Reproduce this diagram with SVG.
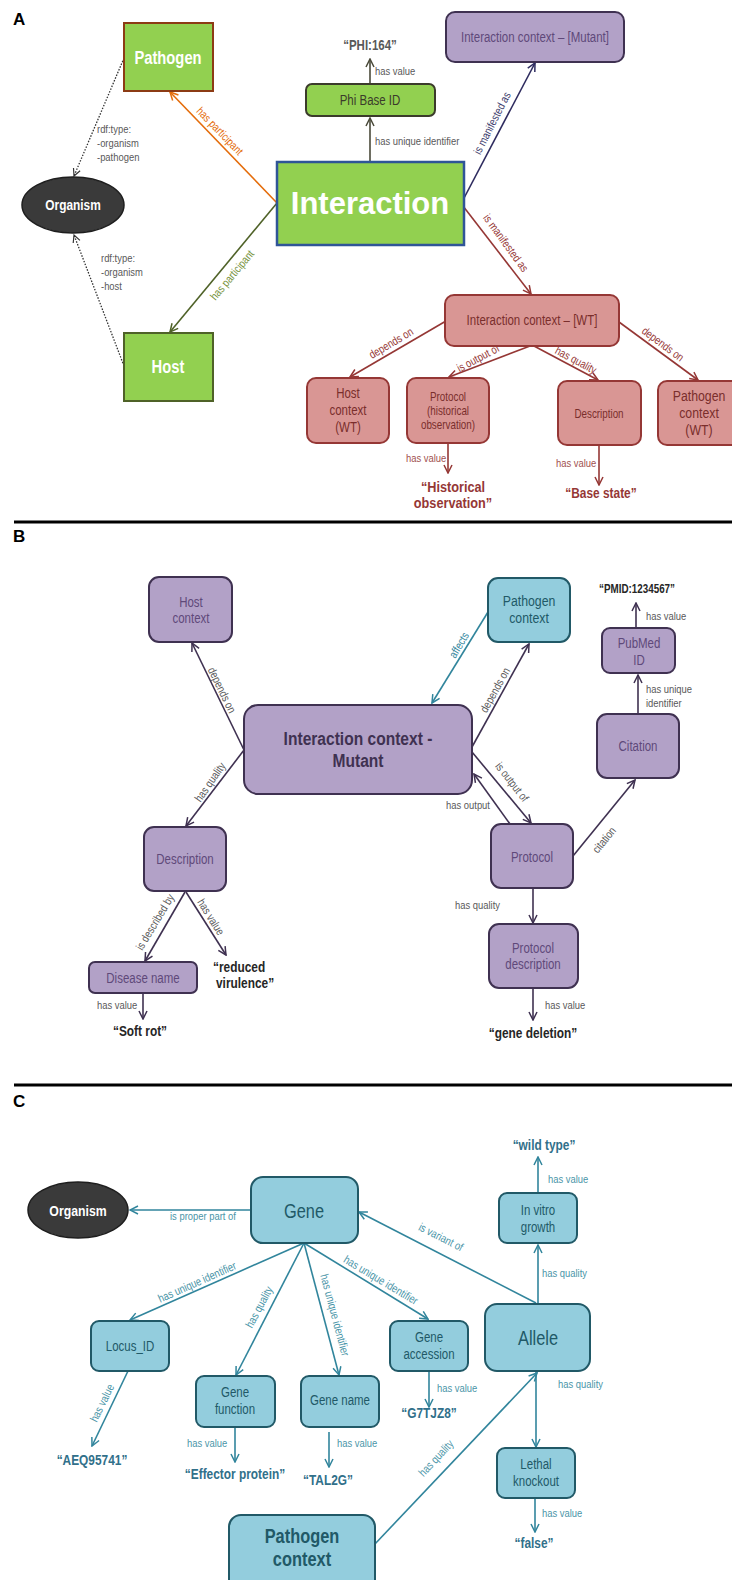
<svg xmlns="http://www.w3.org/2000/svg" width="732" height="1580" viewBox="0 0 732 1580">
<style>
text{font-family:"Liberation Sans",Arial,sans-serif;}
.ttl{font-weight:bold;font-size:17px;fill:#000}
.c{text-anchor:middle}
.lbl{font-size:11.5px;fill:#595959}
.n{font-size:14px}
.s{font-size:12px}
.b{font-weight:bold}
.wb{fill:#fff;font-weight:bold}
.ln{fill:none;stroke-width:1.6}
.dot{stroke:#333;stroke-dasharray:1.5 1.5;stroke-width:1.3}
.gA{fill:#92d050}
.wt{fill:#d99694;stroke:#953735;stroke-width:2}
.wtt{fill:#7a2e2c}
.pu{fill:#b2a1c7;stroke:#3f3151;stroke-width:2}
.put{fill:#5f497a}
.bl{fill:#93cddd;stroke:#215967;stroke-width:2}
.blt{fill:#215967}
.tl{fill:#4a95a8}
.org{fill:#3a3a3a;stroke:#1e1e1e;stroke-width:1.5}
.va{font-size:14.5px;font-weight:bold}
</style>
<defs>
<marker id="mOr" viewBox="0 0 10 10" refX="9" refY="5" markerWidth="10" markerHeight="10" markerUnits="userSpaceOnUse" orient="auto"><path d="M1,1 L9,5 L1,9" fill="none" stroke="#e46c0a" stroke-width="1.5"/></marker>
<marker id="mOl" viewBox="0 0 10 10" refX="9" refY="5" markerWidth="10" markerHeight="10" markerUnits="userSpaceOnUse" orient="auto"><path d="M1,1 L9,5 L1,9" fill="none" stroke="#4f6228" stroke-width="1.5"/></marker>
<marker id="mGr" viewBox="0 0 10 10" refX="9" refY="5" markerWidth="10" markerHeight="10" markerUnits="userSpaceOnUse" orient="auto"><path d="M1,1 L9,5 L1,9" fill="none" stroke="#4a4a3a" stroke-width="1.5"/></marker>
<marker id="mNv" viewBox="0 0 10 10" refX="9" refY="5" markerWidth="10" markerHeight="10" markerUnits="userSpaceOnUse" orient="auto"><path d="M1,1 L9,5 L1,9" fill="none" stroke="#2e2b5f" stroke-width="1.5"/></marker>
<marker id="mRd" viewBox="0 0 10 10" refX="9" refY="5" markerWidth="10" markerHeight="10" markerUnits="userSpaceOnUse" orient="auto"><path d="M1,1 L9,5 L1,9" fill="none" stroke="#953735" stroke-width="1.5"/></marker>
<marker id="mDt" viewBox="0 0 10 10" refX="9" refY="5" markerWidth="9" markerHeight="9" markerUnits="userSpaceOnUse" orient="auto"><path d="M1,1 L9,5 L1,9" fill="none" stroke="#333" stroke-width="1.3"/></marker>
<marker id="mPu" viewBox="0 0 10 10" refX="9" refY="5" markerWidth="10" markerHeight="10" markerUnits="userSpaceOnUse" orient="auto"><path d="M1,1 L9,5 L1,9" fill="none" stroke="#3f3151" stroke-width="1.5"/></marker>
<marker id="mTl" viewBox="0 0 10 10" refX="9" refY="5" markerWidth="10" markerHeight="10" markerUnits="userSpaceOnUse" orient="auto"><path d="M1,1 L9,5 L1,9" fill="none" stroke="#31859c" stroke-width="1.5"/></marker>
</defs>
<rect width="732" height="1580" fill="#fff"/>

<!-- panel titles and dividers -->
<text class="ttl" x="13" y="25">A</text>
<line x1="14" y1="522" x2="732" y2="522" stroke="#000" stroke-width="3"/>
<text class="ttl" x="13" y="542">B</text>
<line x1="14" y1="1085" x2="732" y2="1085" stroke="#000" stroke-width="3"/>
<text class="ttl" x="13" y="1107">C</text>

<!-- connectors -->
<g id="connectors">
  <line class="ln" stroke="#e46c0a" x1="277" y1="203" x2="170" y2="92" marker-end="url(#mOr)"/>
  <line class="ln" stroke="#4f6228" x1="277" y1="203" x2="170" y2="332" marker-end="url(#mOl)"/>
  <line class="ln" stroke="#4a4a3a" x1="370" y1="162" x2="370" y2="118" marker-end="url(#mGr)"/>
  <line class="ln" stroke="#4a4a3a" x1="370" y1="84" x2="370" y2="59" marker-end="url(#mGr)"/>
  <line class="ln" stroke="#2e2b5f" x1="463" y1="200" x2="535" y2="63" marker-end="url(#mNv)"/>
  <line class="ln" stroke="#953735" x1="463" y1="206" x2="531" y2="294" marker-end="url(#mRd)"/>
  <line class="ln" stroke="#953735" x1="446" y1="321" x2="350" y2="377" marker-end="url(#mRd)"/>
  <line class="ln" stroke="#953735" x1="530" y1="346" x2="449" y2="377" marker-end="url(#mRd)"/>
  <line class="ln" stroke="#953735" x1="534" y1="346" x2="598" y2="380" marker-end="url(#mRd)"/>
  <line class="ln" stroke="#953735" x1="619" y1="322" x2="698" y2="380" marker-end="url(#mRd)"/>
  <line class="ln" stroke="#953735" x1="448" y1="443" x2="448" y2="473" marker-end="url(#mRd)"/>
  <line class="ln" stroke="#953735" x1="599" y1="445" x2="599" y2="485" marker-end="url(#mRd)"/>
  <line class="ln dot" x1="124" y1="58" x2="74" y2="176" marker-end="url(#mDt)"/>
  <line class="ln dot" x1="124" y1="366" x2="74" y2="235" marker-end="url(#mDt)"/>
  <line class="ln" stroke="#3f3151" x1="244" y1="750" x2="192" y2="643" marker-end="url(#mPu)"/>
  <line class="ln" stroke="#3f3151" x1="244" y1="750" x2="186" y2="826" marker-end="url(#mPu)"/>
  <line class="ln" stroke="#31859c" x1="488" y1="612" x2="432" y2="703" marker-end="url(#mTl)"/>
  <line class="ln" stroke="#3f3151" x1="472" y1="747" x2="529" y2="644" marker-end="url(#mPu)"/>
  <line class="ln" stroke="#3f3151" x1="472" y1="752" x2="531" y2="823" marker-end="url(#mPu)"/>
  <line class="ln" stroke="#3f3151" x1="510" y1="824" x2="474" y2="774" marker-end="url(#mPu)"/>
  <line class="ln" stroke="#3f3151" x1="573" y1="856" x2="635" y2="780" marker-end="url(#mPu)"/>
  <line class="ln" stroke="#3f3151" x1="638" y1="714" x2="638" y2="675" marker-end="url(#mPu)"/>
  <line class="ln" stroke="#3f3151" x1="636" y1="628" x2="636" y2="603" marker-end="url(#mPu)"/>
  <line class="ln" stroke="#3f3151" x1="533" y1="888" x2="533" y2="923" marker-end="url(#mPu)"/>
  <line class="ln" stroke="#3f3151" x1="533" y1="989" x2="533" y2="1020" marker-end="url(#mPu)"/>
  <line class="ln" stroke="#3f3151" x1="185" y1="892" x2="145" y2="961" marker-end="url(#mPu)"/>
  <line class="ln" stroke="#3f3151" x1="186" y1="892" x2="226" y2="955" marker-end="url(#mPu)"/>
  <line class="ln" stroke="#3f3151" x1="143" y1="993" x2="143" y2="1019" marker-end="url(#mPu)"/>
  <line class="ln" stroke="#31859c" x1="251" y1="1210" x2="130" y2="1210" marker-end="url(#mTl)"/>
  <line class="ln" stroke="#31859c" x1="536" y1="1303" x2="359" y2="1212" marker-end="url(#mTl)"/>
  <line class="ln" stroke="#31859c" x1="538" y1="1303" x2="538" y2="1245" marker-end="url(#mTl)"/>
  <line class="ln" stroke="#31859c" x1="538" y1="1193" x2="538" y2="1157" marker-end="url(#mTl)"/>
  <line class="ln" stroke="#31859c" x1="304" y1="1243" x2="130" y2="1320" marker-end="url(#mTl)"/>
  <line class="ln" stroke="#31859c" x1="304" y1="1243" x2="236" y2="1375" marker-end="url(#mTl)"/>
  <line class="ln" stroke="#31859c" x1="304" y1="1243" x2="339" y2="1375" marker-end="url(#mTl)"/>
  <line class="ln" stroke="#31859c" x1="304" y1="1243" x2="428" y2="1319" marker-end="url(#mTl)"/>
  <line class="ln" stroke="#31859c" x1="128" y1="1371" x2="92" y2="1446" marker-end="url(#mTl)"/>
  <line class="ln" stroke="#31859c" x1="235" y1="1427" x2="235" y2="1462" marker-end="url(#mTl)"/>
  <line class="ln" stroke="#31859c" x1="329" y1="1432" x2="329" y2="1467" marker-end="url(#mTl)"/>
  <line class="ln" stroke="#31859c" x1="429" y1="1371" x2="429" y2="1407" marker-end="url(#mTl)"/>
  <line class="ln" stroke="#31859c" x1="536" y1="1372" x2="536" y2="1447" marker-end="url(#mTl)"/>
  <line class="ln" stroke="#31859c" x1="374" y1="1545" x2="537" y2="1373" marker-end="url(#mTl)"/>
  <line class="ln" stroke="#31859c" x1="535" y1="1498" x2="535" y2="1532" marker-end="url(#mTl)"/>
</g>

<!-- connector labels -->
<g id="connector-labels">
  <text class="lbl" transform="translate(375,75) scale(.82,1)">has value</text>
  <text class="lbl" transform="translate(375,145) scale(.82,1)">has unique identifier</text>
  <text class="lbl" transform="translate(97,133) scale(.82,1)">rdf:type:</text>
  <text class="lbl" transform="translate(97,147) scale(.82,1)">-organism</text>
  <text class="lbl" transform="translate(97,161) scale(.82,1)">-pathogen</text>
  <text class="lbl" transform="translate(101,262) scale(.82,1)">rdf:type:</text>
  <text class="lbl" transform="translate(101,276) scale(.82,1)">-organism</text>
  <text class="lbl" transform="translate(101,290) scale(.82,1)">-host</text>
  <text class="lbl c" transform="translate(220,131) rotate(46) scale(.82,1)" y="4" style="fill:#e46c0a">has participant</text>
  <text class="lbl c" transform="translate(232,275) rotate(-50) scale(.82,1)" y="4" style="fill:#76923c">has participant</text>
  <text class="lbl c" transform="translate(492,123) rotate(-63) scale(.82,1)" y="4" style="fill:#3f3f6f">is manifested as</text>
  <text class="lbl c" transform="translate(506,243) rotate(54) scale(.82,1)" y="4" style="fill:#953735">is manifested as</text>
  <text class="lbl c" transform="translate(391,343) rotate(-31) scale(.82,1)" y="4" style="fill:#953735">depends on</text>
  <text class="lbl c" transform="translate(478,358) rotate(-28) scale(.82,1)" y="4" style="fill:#953735">is output of</text>
  <text class="lbl c" transform="translate(576,360) rotate(28) scale(.82,1)" y="4" style="fill:#953735">has quality</text>
  <text class="lbl c" transform="translate(663,344) rotate(37) scale(.82,1)" y="4" style="fill:#953735">depends on</text>
  <text class="lbl" transform="translate(406,462) scale(.82,1)" style="fill:#a0504e">has value</text>
  <text class="lbl" transform="translate(556,467) scale(.82,1)" style="fill:#a0504e">has value</text>

  <text class="lbl c" transform="translate(222,690) rotate(64) scale(.82,1)" y="4">depends on</text>
  <text class="lbl c" transform="translate(210,782) rotate(-55) scale(.82,1)" y="4">has quality</text>
  <text class="lbl c" transform="translate(459,645) rotate(-59) scale(.82,1)" y="4" style="fill:#31859c">affects</text>
  <text class="lbl c" transform="translate(495,690) rotate(-61) scale(.82,1)" y="4">depends on</text>
  <text class="lbl c" transform="translate(512,782) rotate(52) scale(.82,1)" y="4">is output of</text>
  <text class="lbl" transform="translate(446,809) scale(.82,1)">has output</text>
  <text class="lbl c" transform="translate(604,840) rotate(-51) scale(.82,1)" y="4">citation</text>
  <text class="lbl" transform="translate(646,620) scale(.82,1)">has value</text>
  <text class="lbl" transform="translate(646,693) scale(.82,1)">has unique</text>
  <text class="lbl" transform="translate(646,707) scale(.82,1)">identifier</text>
  <text class="lbl" transform="translate(455,909) scale(.82,1)">has quality</text>
  <text class="lbl" transform="translate(545,1009) scale(.82,1)">has value</text>
  <text class="lbl c" transform="translate(155,922) rotate(-59) scale(.82,1)" y="4">is described by</text>
  <text class="lbl c" transform="translate(211,917) rotate(58) scale(.82,1)" y="4">has value</text>
  <text class="lbl" transform="translate(97,1009) scale(.82,1)">has value</text>

  <text class="lbl tl" transform="translate(170,1220) scale(.82,1)">is proper part of</text>
  <text class="lbl c tl" transform="translate(441,1237) rotate(27) scale(.82,1)" y="4">is variant of</text>
  <text class="lbl tl" transform="translate(548,1183) scale(.82,1)">has value</text>
  <text class="lbl tl" transform="translate(542,1277) scale(.82,1)">has quality</text>
  <text class="lbl c tl" transform="translate(197,1282) rotate(-24) scale(.82,1)" y="4">has unique identifier</text>
  <text class="lbl c tl" transform="translate(259,1307) rotate(-62) scale(.82,1)" y="4">has quality</text>
  <text class="lbl c tl" transform="translate(335,1315) rotate(75) scale(.82,1)" y="4">has unique identifier</text>
  <text class="lbl c tl" transform="translate(381,1280) rotate(31) scale(.82,1)" y="4">has unique identifier</text>
  <text class="lbl c tl" transform="translate(102,1403) rotate(-64) scale(.82,1)" y="4">has value</text>
  <text class="lbl tl" transform="translate(187,1447) scale(.82,1)">has value</text>
  <text class="lbl tl" transform="translate(337,1447) scale(.82,1)">has value</text>
  <text class="lbl tl" transform="translate(437,1392) scale(.82,1)">has value</text>
  <text class="lbl tl" transform="translate(558,1388) scale(.82,1)">has quality</text>
  <text class="lbl tl" transform="translate(542,1517) scale(.82,1)">has value</text>
  <text class="lbl c tl" transform="translate(436,1458) rotate(-47) scale(.82,1)" y="4">has quality</text>
</g>

<!-- literal values -->
<g id="values">
  <text class="c b" transform="translate(370,50) scale(.82,1)" style="font-size:14px;fill:#595959">“PHI:164”</text>
  <text class="c va" transform="translate(453,492) scale(.82,1)" style="font-size:15.5px;fill:#953735">“Historical</text>
  <text class="c va" transform="translate(453,508) scale(.82,1)" style="font-size:15.5px;fill:#953735">observation”</text>
  <text class="c va" transform="translate(601,498) scale(.82,1)" style="fill:#953735">“Base state”</text>
  <text class="c b" transform="translate(637,593) scale(.82,1)" style="font-size:12px;fill:#262626">“PMID:1234567”</text>
  <text class="c va" transform="translate(533,1038) scale(.82,1)" style="fill:#262626">“gene deletion”</text>
  <text class="va" transform="translate(213,972) scale(.82,1)" style="fill:#262626">“reduced</text>
  <text class="va" transform="translate(216,988) scale(.82,1)" style="fill:#262626">virulence”</text>
  <text class="c va" transform="translate(140,1036) scale(.82,1)" style="fill:#262626">“Soft rot”</text>
  <text class="c va" transform="translate(544,1150) scale(.82,1)" style="fill:#31708a">“wild type”</text>
  <text class="c va" transform="translate(92,1465) scale(.82,1)" style="fill:#31708a">“AEQ95741”</text>
  <text class="c va" transform="translate(235,1479) scale(.82,1)" style="fill:#31708a">“Effector protein”</text>
  <text class="c va" transform="translate(328,1485) scale(.82,1)" style="fill:#31708a">“TAL2G”</text>
  <text class="c va" transform="translate(429,1418) scale(.82,1)" style="fill:#31708a">“G7TJZ8”</text>
  <text class="c va" transform="translate(534,1548) scale(.82,1)" style="fill:#31708a">“false”</text>
</g>

<!-- Panel A nodes -->
<g id="a-pathogen"><rect class="gA" x="124" y="23" width="89" height="68" stroke="#8c3b14" stroke-width="2"/><text class="c wb" transform="translate(168,64) scale(.82,1)" style="font-size:18px">Pathogen</text></g>
<g id="a-host"><rect class="gA" x="124" y="333" width="89" height="68" stroke="#4f6228" stroke-width="2"/><text class="c wb" transform="translate(168,373) scale(.82,1)" style="font-size:18px">Host</text></g>
<g id="a-organism"><ellipse class="org" cx="73" cy="205" rx="51" ry="28"/><text class="c wb" transform="translate(73,210) scale(.82,1)" style="font-size:14.5px">Organism</text></g>
<g id="a-interaction"><rect class="gA" x="277" y="162" width="187" height="83" stroke="#2f5597" stroke-width="2.5"/><text class="c wb" x="370" y="214" style="font-size:31px">Interaction</text></g>
<g id="a-phibase"><rect class="gA" x="306" y="84" width="129" height="32" rx="6" stroke="#3b3b2b" stroke-width="2"/><text class="c n" transform="translate(370,105) scale(.82,1)" fill="#3b3b2b">Phi Base ID</text></g>
<g id="a-mutant"><rect class="pu" x="446" y="12" width="178" height="50" rx="9"/><text class="c n put" transform="translate(535,42) scale(.82,1)">Interaction context – [Mutant]</text></g>
<g id="a-wt"><rect class="wt" x="445" y="295" width="174" height="51" rx="9"/><text class="c n wtt" transform="translate(532,325) scale(.82,1)">Interaction context – [WT]</text></g>
<g id="a-hostctx"><rect class="wt" x="307" y="378" width="82" height="65" rx="9"/><text class="c n wtt" transform="translate(348,398) scale(.82,1)">Host</text><text class="c n wtt" transform="translate(348,415) scale(.82,1)">context</text><text class="c n wtt" transform="translate(348,432) scale(.82,1)">(WT)</text></g>
<g id="a-protocol"><rect class="wt" x="407" y="378" width="82" height="65" rx="9"/><text class="c s wtt" transform="translate(448,401) scale(.82,1)">Protocol</text><text class="c s wtt" transform="translate(448,415) scale(.82,1)">(historical</text><text class="c s wtt" transform="translate(448,429) scale(.82,1)">observation)</text></g>
<g id="a-description"><rect class="wt" x="558" y="381" width="83" height="64" rx="9"/><text class="c s wtt" transform="translate(599,418) scale(.82,1)">Description</text></g>
<g id="a-pathctx"><rect class="wt" x="658" y="381" width="82" height="64" rx="9"/><text class="c n wtt" transform="translate(699,401) scale(.82,1)" style="font-size:15px">Pathogen</text><text class="c n wtt" transform="translate(699,418) scale(.82,1)" style="font-size:15px">context</text><text class="c n wtt" transform="translate(699,435) scale(.82,1)" style="font-size:15px">(WT)</text></g>

<!-- Panel B nodes -->
<g id="b-hostctx"><rect class="pu" x="149" y="577" width="83" height="65" rx="10"/><text class="c n put" transform="translate(191,607) scale(.82,1)">Host</text><text class="c n put" transform="translate(191,623) scale(.82,1)">context</text></g>
<g id="b-interaction"><rect class="pu" x="244" y="705" width="228" height="89" rx="14"/><text class="c b" transform="translate(358,745) scale(.82,1)" style="font-size:19px;fill:#3f3151">Interaction context -</text><text class="c b" transform="translate(358,767) scale(.82,1)" style="font-size:19px;fill:#3f3151">Mutant</text></g>
<g id="b-pathctx"><rect class="bl" x="488" y="578" width="82" height="64" rx="10"/><text class="c blt" transform="translate(529,606) scale(.82,1)" style="font-size:15px">Pathogen</text><text class="c blt" transform="translate(529,623) scale(.82,1)" style="font-size:15px">context</text></g>
<g id="b-pubmed"><rect class="pu" x="602" y="628" width="73" height="45" rx="8"/><text class="c n put" transform="translate(639,648) scale(.82,1)">PubMed</text><text class="c n put" transform="translate(639,665) scale(.82,1)">ID</text></g>
<g id="b-citation"><rect class="pu" x="597" y="714" width="82" height="64" rx="10"/><text class="c n put" transform="translate(638,751) scale(.82,1)">Citation</text></g>
<g id="b-protocol"><rect class="pu" x="491" y="824" width="82" height="64" rx="10"/><text class="c n put" transform="translate(532,862) scale(.82,1)">Protocol</text></g>
<g id="b-protdesc"><rect class="pu" x="489" y="924" width="89" height="64" rx="10"/><text class="c n put" transform="translate(533,953) scale(.82,1)">Protocol</text><text class="c n put" transform="translate(533,969) scale(.82,1)">description</text></g>
<g id="b-description"><rect class="pu" x="144" y="827" width="82" height="64" rx="10"/><text class="c n put" transform="translate(185,864) scale(.82,1)">Description</text></g>
<g id="b-disease"><rect class="pu" x="89" y="962" width="108" height="31" rx="6"/><text class="c n put" transform="translate(143,983) scale(.82,1)">Disease name</text></g>

<!-- Panel C nodes -->
<g id="c-organism"><ellipse class="org" cx="78" cy="1210" rx="50" ry="28"/><text class="c wb" transform="translate(78,1216) scale(.82,1)" style="font-size:15px">Organism</text></g>
<g id="c-gene"><rect class="bl" x="251" y="1177" width="107" height="66" rx="12"/><text class="c blt" transform="translate(304,1218) scale(.82,1)" style="font-size:20px">Gene</text></g>
<g id="c-invitro"><rect class="bl" x="499" y="1193" width="78" height="50" rx="8"/><text class="c n blt" transform="translate(538,1215) scale(.82,1)">In vitro</text><text class="c n blt" transform="translate(538,1232) scale(.82,1)">growth</text></g>
<g id="c-allele"><rect class="bl" x="485" y="1304" width="105" height="67" rx="12"/><text class="c blt" transform="translate(538,1345) scale(.82,1)" style="font-size:20px">Allele</text></g>
<g id="c-geneacc"><rect class="bl" x="390" y="1321" width="78" height="50" rx="8"/><text class="c n blt" transform="translate(429,1342) scale(.82,1)">Gene</text><text class="c n blt" transform="translate(429,1359) scale(.82,1)">accession</text></g>
<g id="c-locus"><rect class="bl" x="91" y="1321" width="78" height="50" rx="8"/><text class="c n blt" transform="translate(130,1351) scale(.82,1)">Locus_ID</text></g>
<g id="c-genefunc"><rect class="bl" x="196" y="1376" width="79" height="51" rx="8"/><text class="c n blt" transform="translate(235,1397) scale(.82,1)">Gene</text><text class="c n blt" transform="translate(235,1414) scale(.82,1)">function</text></g>
<g id="c-genename"><rect class="bl" x="301" y="1376" width="78" height="51" rx="8"/><text class="c n blt" transform="translate(340,1405) scale(.82,1)">Gene name</text></g>
<g id="c-lethal"><rect class="bl" x="497" y="1448" width="78" height="50" rx="8"/><text class="c n blt" transform="translate(536,1469) scale(.82,1)">Lethal</text><text class="c n blt" transform="translate(536,1486) scale(.82,1)">knockout</text></g>
<g id="c-pathctx"><rect class="bl" x="229" y="1515" width="146" height="80" rx="12"/><text class="c b blt" transform="translate(302,1543) scale(.82,1)" style="font-size:20px">Pathogen</text><text class="c b blt" transform="translate(302,1566) scale(.82,1)" style="font-size:20px">context</text></g>
</svg>
